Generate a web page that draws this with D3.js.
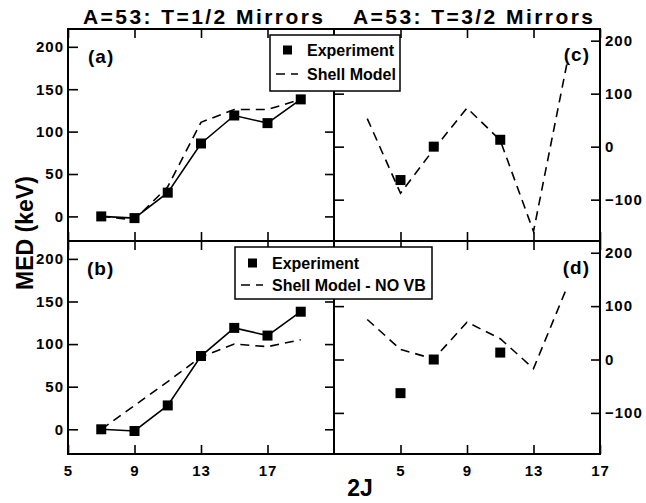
<!DOCTYPE html>
<html>
<head>
<meta charset="utf-8">
<script src="https://cdn.jsdelivr.net/npm/d3@7"></script>
<style>
  html, body { margin: 0; padding: 0; background: #fff; }
  svg { display: block; font-family: "Liberation Sans", Arial, Helvetica, sans-serif; font-weight: bold; }
</style>
</head>
<body>
<svg id="chart" width="646" height="503"></svg>
<script>
// ---- data ----
const xT12 = [7, 9, 11, 13, 15, 17, 19];
const expT12 = [0, -2, 28, 86, 119, 110, 138];
const shellT12 = [0, -4, 35, 111, 126, 126, 138];
const shellNoVbT12 = [0, 28, 56, 85, 100, 97, 105];

const xExpT32 = [5, 7, 11];
const expT32 = [-63, 0, 13];
const xShellT32 = [3, 5, 7, 9, 11, 13, 15];
const shellT32 = [53, -88, -5, 73, 12, -160, 155];
const shellNoVbT32 = [75, 19, 1, 70, 39, -17, 134];

const leftYTicks = [0, 50, 100, 150, 200];
const rightYTicks = [-100, 0, 100, 200];
const leftXTicks = [5, 9, 13, 17];
const rightXTicks = [5, 9, 13, 17];

const titles = ["A=53: T=1/2 Mirrors", "A=53: T=3/2 Mirrors"];
const panelLabels = ["(a)", "(b)", "(c)", "(d)"];
const legendTop = ["Experiment", "Shell Model"];
const legendBottom = ["Experiment", "Shell Model - NO VB"];

// ---- layout ----
const svg = d3.select("#chart");
const L = 68, M = 334, R = 600, T = 29, MID = 241, B = 454;

const xL = d3.scaleLinear().domain([5, 21]).range([L, M]);
const xR = d3.scaleLinear().domain([1, 17]).range([M, R]);
const yLTop = d3.scaleLinear().domain([-29, 221]).range([MID, T]);
const yLBot = d3.scaleLinear().domain([-29, 221]).range([B, MID]);
const yRTop = d3.scaleLinear().domain([-178, 222]).range([MID, T]);
const yRBot = d3.scaleLinear().domain([-177, 222]).range([B, MID]);

const tickFont = 15;

function styleAxis(g) {
  g.select(".domain").remove();
  g.selectAll(".tick line").attr("stroke", "#000").attr("stroke-width", 1.6);
  g.selectAll(".tick text")
    .attr("fill", "#000")
    .style("font-size", tickFont + "px")
    .style("font-weight", "bold")
    .style("letter-spacing", "1px")
    .style("font-family", "'Liberation Sans', Arial, sans-serif");
}

function panel(x, y, top, bottom, left, right, opts) {
  // x ticks (top and bottom, inward)
  const xt = opts.xTicks;
  svg.append("g").attr("transform", `translate(0,${top})`)
    .call(d3.axisTop(x).tickValues(xt).tickSize(-9).tickFormat(""))
    .call(styleAxis);
  const bx = svg.append("g").attr("transform", `translate(0,${bottom})`)
    .call(d3.axisBottom(x).tickValues(xt).tickSize(-9).tickPadding(11)
      .tickFormat(opts.xLabels ? d3.format("d") : ""))
    .call(styleAxis);
  // y ticks left and right (inward)
  const yt = opts.yTicks;
  svg.append("g").attr("transform", `translate(${left},0)`)
    .call(d3.axisLeft(y).tickValues(yt).tickSize(-10).tickPadding(4)
      .tickFormat(opts.yLabelSide === "left" ? d3.format("d") : ""))
    .call(styleAxis);
  svg.append("g").attr("transform", `translate(${right},0)`)
    .call(d3.axisRight(y).tickValues(yt).tickSize(-9).tickPadding(5)
      .tickFormat(opts.yLabelSide === "right" ? d3.format("d") : ""))
    .call(styleAxis);
}

panel(xL, yLTop, T, MID, L, M, { xTicks: leftXTicks, yTicks: leftYTicks, yLabelSide: "left", xLabels: false });
panel(xL, yLBot, MID, B, L, M, { xTicks: leftXTicks, yTicks: leftYTicks, yLabelSide: "left", xLabels: true });
panel(xR, yRTop, T, MID, M, R, { xTicks: rightXTicks, yTicks: rightYTicks, yLabelSide: "right", xLabels: false });
panel(xR, yRBot, MID, B, M, R, { xTicks: rightXTicks, yTicks: rightYTicks, yLabelSide: "right", xLabels: true });

// frames
[[L, T, M, MID], [L, MID, M, B], [M, T, R, MID], [M, MID, R, B]].forEach(([x0, y0, x1, y1]) => {
  svg.append("rect").attr("x", x0).attr("y", y0).attr("width", x1 - x0).attr("height", y1 - y0)
    .attr("fill", "none").attr("stroke", "#000").attr("stroke-width", 2);
});

// ---- series ----
function drawLine(xs, ys, x, y, dashed) {
  const line = d3.line().x((d, i) => x(xs[i])).y(d => y(d));
  svg.append("path").datum(ys).attr("d", line)
    .attr("fill", "none").attr("stroke", "#000").attr("stroke-width", 1.6)
    .attr("stroke-dasharray", dashed ? "9,6" : null);
}
function drawSquares(xs, ys, x, y) {
  svg.append("g").selectAll("rect").data(ys).join("rect")
    .attr("x", (d, i) => x(xs[i]) - 5).attr("y", d => y(d) - 5)
    .attr("width", 10).attr("height", 10).attr("fill", "#000");
}

// (a)
drawLine(xT12, shellT12, xL, yLTop, true);
drawLine(xT12, expT12, xL, yLTop, false);
drawSquares(xT12, expT12, xL, yLTop);
// (b)
drawLine(xT12, shellNoVbT12, xL, yLBot, true);
drawLine(xT12, expT12, xL, yLBot, false);
drawSquares(xT12, expT12, xL, yLBot);
// (c)
drawLine(xShellT32, shellT32, xR, yRTop, true);
drawSquares(xExpT32, expT32, xR, yRTop);
// (d)
drawLine(xShellT32, shellNoVbT32, xR, yRBot, true);
drawSquares(xExpT32, expT32, xR, yRBot);

// ---- legends ----
function legend(x0, y0, w, h, rowY, labels) {
  const g = svg.append("g");
  g.append("rect").attr("x", x0).attr("y", y0).attr("width", w).attr("height", h)
    .attr("fill", "#fff").attr("stroke", "#000").attr("stroke-width", 1.5);
  g.append("rect").attr("x", x0 + 13).attr("y", rowY[0] - 4.5).attr("width", 9).attr("height", 9).attr("fill", "#000");
  g.append("line").attr("x1", x0 + 6).attr("x2", x0 + 28).attr("y1", rowY[1]).attr("y2", rowY[1])
    .attr("stroke", "#000").attr("stroke-width", 1.6).attr("stroke-dasharray", "9,6");
  labels.forEach((t, i) => {
    g.append("text").attr("x", x0 + 37).attr("y", rowY[i]).attr("dy", "0.36em")
      .style("font-size", "16px").text(t);
  });
}
legend(270, 35, 130, 56, [50, 74], legendTop);
legend(235, 247, 197, 52, [263, 285], legendBottom);

// ---- labels ----
svg.append("text").attr("x", 83).attr("y", 24).attr("textLength", 240).attr("lengthAdjust", "spacing")
  .style("font-size", "21px").text(titles[0]);
svg.append("text").attr("x", 353).attr("y", 24).attr("textLength", 240).attr("lengthAdjust", "spacing")
  .style("font-size", "21px").text(titles[1]);

const pl = [[88, 63, "start"], [87, 275, "start"], [590, 61, "end"], [590, 274, "end"]];
pl.forEach(([x, y, a], i) => {
  svg.append("text").attr("x", x).attr("y", y).attr("text-anchor", a)
    .style("font-size", "19px").style("letter-spacing", "1px").text(panelLabels[i]);
});

svg.append("text").attr("transform", "translate(33,233) rotate(-90)").attr("text-anchor", "middle")
  .style("font-size", "23px").text("MED (keV)");
svg.append("text").attr("x", 360).attr("y", 496).attr("text-anchor", "middle")
  .style("font-size", "23px").text("2J");
</script>
</body>
</html>
